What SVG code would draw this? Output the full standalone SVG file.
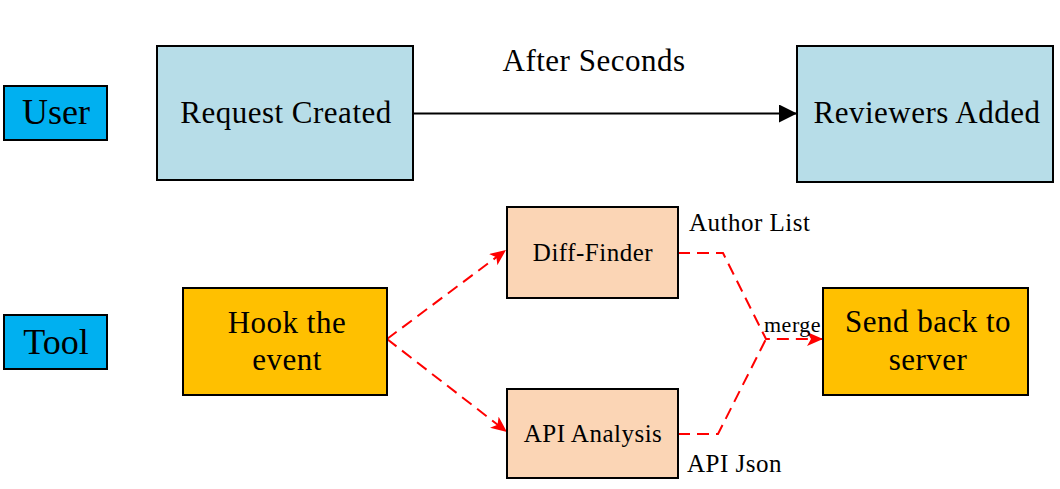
<svg xmlns="http://www.w3.org/2000/svg" width="1060" height="489" viewBox="0 0 1060 489">
  <style>
    .box { stroke: #000; stroke-width: 2; }
    .lane { fill: #00B0F0; }
    .blue { fill: #B7DDE8; }
    .gold { fill: #FFC000; }
    .peach { fill: #FBD5B5; }
    text { font-family: 'Liberation Serif', 'DejaVu Serif', serif; fill: #000; letter-spacing: 0.5px; }
    .big { font-size: 36px; text-anchor: middle; letter-spacing: 0; }
    .mid { font-size: 31px; text-anchor: middle; }
    .sm { font-size: 25px; text-anchor: middle; }
    .lbl { font-size: 25px; }
    .solid { fill: none; stroke: #000; stroke-width: 2; }
    .dash { fill: none; stroke: #FF0000; stroke-width: 2; stroke-dasharray: 12 7; }
  </style>
  <defs>
    <marker id="blackArrow" markerUnits="userSpaceOnUse" markerWidth="18" markerHeight="18" refX="18" refY="9" orient="auto">
      <path d="M0,0 L18,9 L0,18 z" fill="#000"/>
    </marker>
    <marker id="redArrow" markerUnits="userSpaceOnUse" markerWidth="16" markerHeight="14" refX="16" refY="7" orient="auto">
      <path d="M0,0 L16,7 L0,14 L4,7 z" fill="#FF0000"/>
    </marker>
  </defs>
  <rect width="1060" height="489" fill="#fff"/>

  <g id="connectors">
    <line class="solid" x1="413" y1="113.5" x2="797" y2="113.5" marker-end="url(#blackArrow)"/>
    <text class="mid" x="594" y="71">After Seconds</text>
    <line class="dash" x1="387" y1="339" x2="506" y2="250" marker-end="url(#redArrow)"/>
    <line class="dash" x1="387" y1="339" x2="507" y2="432" marker-end="url(#redArrow)"/>
    <polyline class="dash" points="678,253 723,253 766,339 823,339" marker-end="url(#redArrow)"/>
    <polyline class="dash" points="678,434 718,434 766,339"/>
    <text class="lbl" x="689" y="231">Author List</text>
    <text class="lbl" x="687" y="472">API Json</text>
    <text style="font-size:22px" x="764" y="332">merge</text>
  </g>

  <g id="user">
    <rect class="box lane" x="4" y="86" width="103" height="54"/>
    <text class="big" x="56" y="124">User</text>
  </g>
  <g id="request-created">
    <rect class="box blue" x="157" y="46" width="256" height="134"/>
    <text class="mid" x="286" y="123">Request Created</text>
  </g>
  <g id="reviewers-added">
    <rect class="box blue" x="797" y="46" width="256" height="136"/>
    <text class="mid" x="927" y="123">Reviewers Added</text>
  </g>
  <g id="tool">
    <rect class="box lane" x="4" y="315" width="103" height="54"/>
    <text class="big" x="56" y="354">Tool</text>
  </g>
  <g id="hook-event">
    <rect class="box gold" x="183" y="288" width="204" height="107"/>
    <text class="mid" x="287" y="333">Hook the</text>
    <text class="mid" x="287" y="370">event</text>
  </g>
  <g id="diff-finder">
    <rect class="box peach" x="507" y="207" width="171" height="91"/>
    <text class="sm" x="593" y="261">Diff-Finder</text>
  </g>
  <g id="api-analysis">
    <rect class="box peach" x="507" y="389" width="171" height="89"/>
    <text class="sm" x="593" y="442">API Analysis</text>
  </g>
  <g id="send-back">
    <rect class="box gold" x="823" y="288" width="205" height="107"/>
    <text class="mid" x="928" y="332">Send back to</text>
    <text class="mid" x="928" y="370">server</text>
  </g>
</svg>
